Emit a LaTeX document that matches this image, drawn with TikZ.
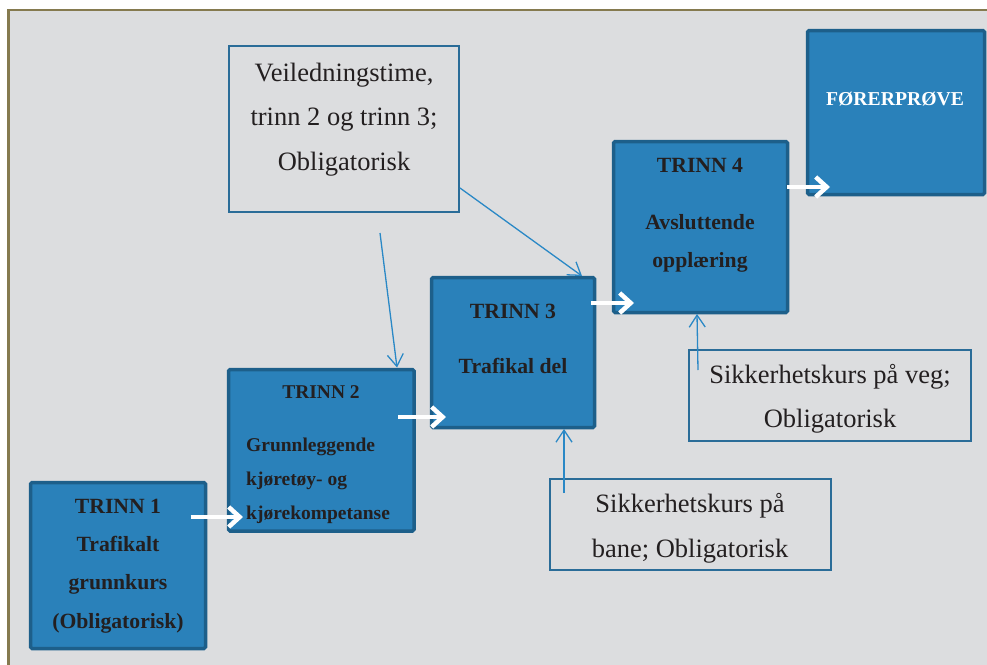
\documentclass[tikz,border=0pt]{standalone}
\usepackage{fontspec}
\setmainfont{Liberation Serif}
\usetikzlibrary{arrows.meta,calc}

\definecolor{paper}{HTML}{DCDDDF}
\definecolor{frameolive}{HTML}{857A4F}
\definecolor{stepfill}{HTML}{2A81BA}
\definecolor{stepedge}{HTML}{1D5F8A}
\definecolor{noteedge}{HTML}{2A6C98}
\definecolor{linkblue}{HTML}{2A88C6}
\definecolor{ink}{HTML}{231F20}

\begin{document}
\begin{tikzpicture}[x=1pt,y=-1pt,
  stepbox/.style={draw=stepedge, fill=stepfill, line width=3.5pt,
    rounded corners=1.5pt, inner sep=0pt, outer sep=0pt},
  notebox/.style={draw=noteedge, fill=paper, line width=1.8pt,
    inner sep=0pt, outer sep=0pt},
  steptxt/.style={font=\bfseries\fontsize{21.7}{26}\selectfont, text=ink,
    anchor=base, inner sep=0pt},
  smalltxt/.style={font=\bfseries\fontsize{19.5}{23}\selectfont, text=ink,
    anchor=base west, inner sep=0pt},
  notetxt/.style={font=\fontsize{26.5}{32}\selectfont, text=ink,
    anchor=base, inner sep=0pt},
  flow/.style={draw=white, line width=4.5pt,
    -{Straight Barb[length=11pt,width=20pt]}},
  link/.style={draw=linkblue, line width=1.3pt,
    -{Straight Barb[length=12pt,width=16pt]}}]

\useasboundingbox (0,0) rectangle (987,664);
\clip (0,0) rectangle (987,664);

% outer panel
\draw[frameolive, line width=2.5pt, fill=paper] (8.5,10) rectangle (1010,690);

% step boxes
\node[stepbox, minimum width=175pt, minimum height=166pt]   (s1) at (118,565.5) {};
\node[stepbox, minimum width=185.5pt, minimum height=161.5pt] (s2) at (321.25,450.25) {};
\node[stepbox, minimum width=163pt, minimum height=150pt]   (s3) at (513,352.5) {};
\node[stepbox, minimum width=174pt, minimum height=171pt]   (s4) at (700.5,227) {};
\node[stepbox, minimum width=177pt, minimum height=164pt]   (s5) at (896,112.5) {};

% note boxes
\node[notebox, minimum width=230pt, minimum height=166pt] (n1) at (344,129) {};
\node[notebox, minimum width=282pt, minimum height=91pt]  (n2) at (830,395.5) {};
\node[notebox, minimum width=281pt, minimum height=91pt]  (n3) at (690.5,524.5) {};

% texts of the steps
\node[steptxt] (t1a) at (118,513) {TRINN 1};
\node[steptxt] (t1b) at (118,551) {Trafikalt};
\node[steptxt] (t1c) at (118,589.5) {grunnkurs};
\node[steptxt] (t1d) at (118,628) {(Obligatorisk)};

\node[steptxt, font=\bfseries\fontsize{19.5}{23}\selectfont] (t2a) at (321,398) {TRINN 2};
\node[smalltxt] (t2b) at (246,451) {Grunnleggende};
\node[smalltxt] (t2c) at (246,485) {kjøretøy- og};
\node[smalltxt] (t2d) at (246,519) {kjørekompetanse};

\node[steptxt] (t3a) at (513,318) {TRINN 3};
\node[steptxt] (t3b) at (513,373) {Trafikal del};

\node[steptxt] (t4a) at (700,172) {TRINN 4};
\node[steptxt] (t4b) at (700,229) {Avsluttende};
\node[steptxt] (t4c) at (700,267) {opplæring};

\node[steptxt, text=white, font=\bfseries\fontsize{19.7}{23}\selectfont] (t5a) at (895,105) {FØRERPRØVE};

% texts of the notes
\node[notetxt] (u1a) at (344,81) {Veiledningstime,};
\node[notetxt] (u1b) at (344,125) {trinn 2 og trinn 3;};
\node[notetxt] (u1c) at (344,170) {Obligatorisk};

\node[notetxt] (u2a) at (830,383) {Sikkerhetskurs på veg;};
\node[notetxt] (u2b) at (830,427) {Obligatorisk};

\node[notetxt] (u3a) at (690,512) {Sikkerhetskurs på};
\node[notetxt] (u3b) at (690,557) {bane; Obligatorisk};

% links from the notes
\coordinate (v1) at (380,233);
\coordinate (v2) at (460,188);
\coordinate (v3) at (698,370);
\coordinate (v4) at (564,493);
\draw[link] (v1) -- ($(s2.north west)+(168.5,-2)$);
\draw[link] (v2) -- ($(s3.north east)+(-12.5,-1.5)$);
\draw[link] (v3) -- ($(s4.south west)+(83.5,1.5)$);
\draw[link] (v4) -- ($(s3.south west)+(132.5,1.5)$);

% flow between the steps
\draw[flow] ($(s1.east)+(-15,-48.5)$) -- ($(s2.west)+(14.5,66.75)$);
\draw[flow] ($(s2.east)+(-16,-33.25)$) -- ($(s3.west)+(14.5,64.5)$);
\draw[flow] ($(s3.east)+(-3.5,-49.5)$) -- ($(s4.west)+(20.5,76)$);
\draw[flow] ($(s4.east)+(-0.5,-40)$) -- ($(s5.west)+(22.5,74.5)$);
\end{tikzpicture}
\end{document}
